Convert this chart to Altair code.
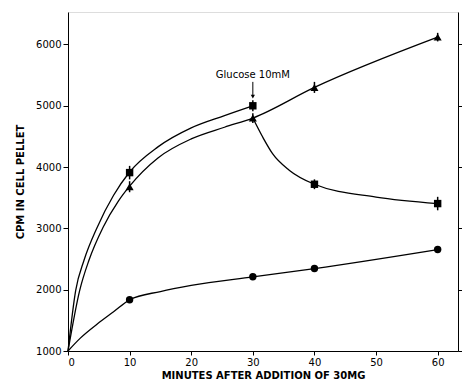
import altair as alt
import pandas as pd

# measured points (markers)
tri_min = [10, 30, 40, 60]
tri_cpm = [3680, 4800, 5300, 6120]
tri_err = [90, 80, 90, 70]
cir_min = [10, 30, 40, 60]
cir_cpm = [1835, 2210, 2345, 2655]
sq_min = [10, 30, 40, 60]
sq_cpm = [3910, 5000, 3720, 3405]
sq_err = [110, 90, 80, 110]

# fitted curves
tri_curve_min = [0, 1.9, 3.4, 5.7, 8.2, 10, 14.6, 20, 25.4, 30, 40, 60]
tri_curve_cpm = [1000, 1990, 2480, 3020, 3450, 3690, 4150, 4460, 4650, 4800, 5300, 6120]
sqc_curve_min = [0, 1.25, 2.6, 4.75, 7.4, 10, 14.6, 20, 25.4, 30]
sqc_curve_cpm = [1000, 1990, 2480, 3020, 3540, 3920, 4330, 4640, 4840, 5000]
sqg_curve_min = [30, 31.6, 33.2, 35.9, 40, 50, 60]
sqg_curve_cpm = [4800, 4490, 4220, 3950, 3720, 3510, 3405]
cir_curve_min = [0, 2, 4.75, 7.4, 10, 15, 20, 30, 40, 60]
cir_curve_cpm = [1000, 1210, 1440, 1640, 1835, 1970, 2070, 2210, 2345, 2655]

annot_text = "Glucose 10mM"

xs = alt.Scale(domain=[0, 63.3], nice=False, zero=False)
ys = alt.Scale(domain=[1000, 6530], nice=False, zero=False)
font = "DejaVu Sans"
yticks = [1000, 2000, 3000, 4000, 5000, 6000]

X = alt.X("x:Q", scale=xs, axis=alt.Axis(
    title="MINUTES AFTER ADDITION OF 30MG", values=[0, 10, 20, 30, 40, 50, 60], format="d",
    grid=False, tickColor="black", domainColor="black", labelColor="black",
    labelFont=font, labelFontSize=10, titleFont=font, titleFontSize=10,
    titleFontWeight="bold", titleColor="black", tickSize=4, labelPadding=2,
    titlePadding=3))
Y = alt.Y("y:Q", scale=ys, axis=alt.Axis(
    title="CPM IN CELL PELLET", values=yticks, format="d",
    grid=False, tickColor="black", domainColor="black", labelColor="black",
    labelFont=font, labelFontSize=10, titleFont=font, titleFontSize=10,
    titleFontWeight="bold", titleColor="black", tickSize=5, labelPadding=2,
    titlePadding=10))


def line(xv, yv):
    df = pd.DataFrame({"x": xv, "y": yv})
    return alt.Chart(df).mark_line(color="black", strokeWidth=1.3, interpolate="monotone").encode(x=X, y=Y)


def errs(xv, yv, ev):
    df = pd.DataFrame({"x": xv, "y": yv, "e": ev})
    return alt.Chart(df).transform_calculate(lo="datum.y - datum.e", hi="datum.y + datum.e").mark_rule(
        color="black", strokeWidth=1.5).encode(x=X, y=alt.Y("lo:Q", scale=ys), y2="hi:Q")


def pts(xv, yv, shape, size):
    df = pd.DataFrame({"x": xv, "y": yv})
    return alt.Chart(df).mark_point(shape=shape, filled=True, color="black", size=size, opacity=1).encode(x=X, y=Y)


layers = [
    line(tri_curve_min, tri_curve_cpm),
    line(sqc_curve_min, sqc_curve_cpm),
    line(sqg_curve_min, sqg_curve_cpm),
    line(cir_curve_min, cir_curve_cpm),
    errs(tri_min, tri_cpm, tri_err),
    errs(sq_min, sq_cpm, sq_err),
    pts(tri_min, tri_cpm, "triangle-up", 65),
    pts(sq_min, sq_cpm, "square", 55),
    pts(cir_min, cir_cpm, "circle", 55),
]

annot = pd.DataFrame({"x": [30], "y": [5500], "t": [annot_text]})
arrow = pd.DataFrame({"x": [30], "y": [5390], "y2": [5150]})
layers += [
    alt.Chart(annot).mark_text(font=font, fontSize=10, color="black").encode(x=X, y=Y, text="t:N"),
    alt.Chart(arrow).mark_rule(color="black", strokeWidth=1).encode(x=X, y=Y, y2="y2:Q"),
    alt.Chart(arrow).mark_point(shape="triangle-down", filled=True, color="black", size=18, opacity=1).encode(
        x=X, y=alt.Y("y2:Q", scale=ys)),
]

right = alt.Chart(pd.DataFrame({"x": cir_min, "y": cir_cpm})).mark_point(opacity=0).encode(
    x=X,
    y=alt.Y("y:Q", scale=ys, axis=alt.Axis(orient="right", values=yticks,
                                          labels=False, title=None, tickColor="black", domainColor="black",
                                          tickSize=4, grid=False)))

chart = alt.layer(alt.layer(*layers), right).resolve_scale(y="independent").properties(
    width=390, height=339,
    autosize=alt.AutoSizeParams(type="none"),
    padding={"left": 60, "top": 4, "right": 4, "bottom": 29},
).configure_view(stroke="black", strokeWidth=1.2).configure(background="white")

chart.save("out.html", embed_options={"renderer": "svg", "actions": False})
